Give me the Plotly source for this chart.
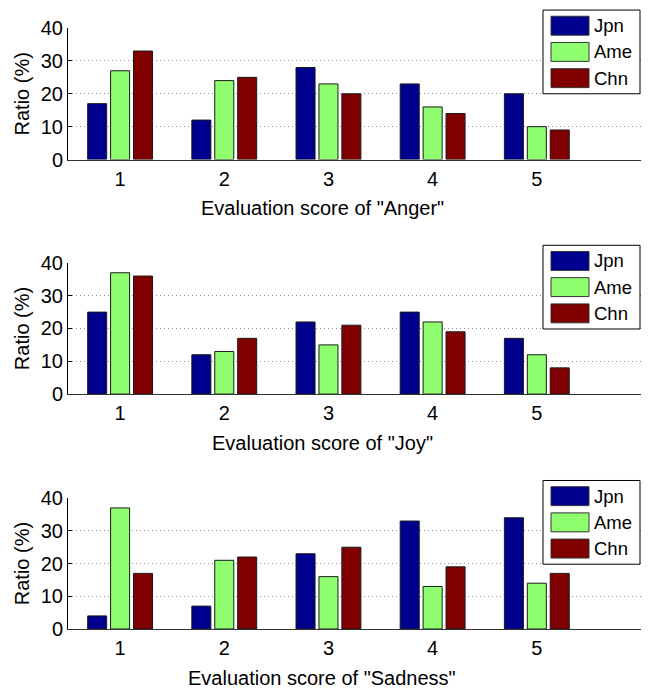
import plotly.graph_objects as go

scores = [1, 2, 3, 4, 5]
series_names = ["Jpn", "Ame", "Chn"]
series_colors = ["#00008F", "#8FFF70", "#800000"]

anger_jpn = [17, 12, 28, 23, 20]
anger_ame = [27, 24, 23, 16, 10]
anger_chn = [33, 25, 20, 14, 9]

joy_jpn = [25, 12, 22, 25, 17]
joy_ame = [37, 13, 15, 22, 12]
joy_chn = [36, 17, 21, 19, 8]

sad_jpn = [4, 7, 23, 33, 34]
sad_ame = [37, 21, 16, 13, 14]
sad_chn = [17, 22, 25, 19, 17]

panel_titles = ['Evaluation score of "Anger"',
                'Evaluation score of "Joy"',
                'Evaluation score of "Sadness"']
panels = [
    [anger_jpn, anger_ame, anger_chn],
    [joy_jpn, joy_ame, joy_chn],
    [sad_jpn, sad_ame, sad_chn],
]

FONT = "Liberation Sans, Arial, Helvetica, sans-serif"
# page body has an 8px margin, so the figure is 8px smaller
W, H = 642, 681
ML, MT = 60, 18
PW, PH = 573, 603
MR = W - ML - PW
MB = H - MT - PH

# geometry in reference-pixel coordinates (plot area x 68..641, y 26..629)
def px2x(px):
    return (px - 68) / PW

def px2y(py):
    return (629 - py) / PH

panel_px = [(26, 158), (261.7, 393.3), (497.7, 629)]
legend_top_px = [8, 244, 480]

fig = go.Figure()
layout = dict(
    width=W, height=H,
    margin=dict(l=ML, r=MR, t=MT, b=MB),
    paper_bgcolor="white", plot_bgcolor="white",
    barmode="group", bargap=0.34, bargroupgap=0.17,
    font=dict(family=FONT, size=20, color="black"),
    showlegend=False,
    annotations=[], shapes=[],
)

for i, (vals, title) in enumerate(zip(panels, panel_titles)):
    k = "" if i == 0 else str(i + 1)
    for name, color, v in zip(series_names, series_colors, vals):
        fig.add_trace(go.Bar(
            x=scores, y=v, name=name,
            marker=dict(color=color, line=dict(color="#1a1a1a", width=1)),
            xaxis="x" + k, yaxis="y" + k,
        ))
    top, bot = panel_px[i]
    layout["xaxis" + k] = dict(
        domain=[0, 1], anchor="y" + k, range=[0.5, 6.0],
        tickvals=scores, ticktext=[str(s) for s in scores],
        showline=True, linecolor="#333333", linewidth=1,
        ticks="", showgrid=False, zeroline=False,
        tickfont=dict(size=20), ticklabelstandoff=1,
    )
    layout["yaxis" + k] = dict(
        domain=[px2y(bot), px2y(top)], anchor="x" + k, range=[0, 40],
        tickvals=[0, 10, 20, 30, 40],
        showline=True, linecolor="black", linewidth=1,
        ticks="inside", ticklen=4, tickcolor="black",
        showgrid=True, gridcolor="#8c8c8c", griddash="1px,3px", gridwidth=1,
        zeroline=False, tickfont=dict(size=20),
        title=dict(text="Ratio (%)", font=dict(size=20), standoff=5),
    )
    layout["annotations"].append(dict(
        text=title, xref="paper", yref="paper",
        x=px2x(322), y=px2y(bot + 49),
        xanchor="center", yanchor="middle", showarrow=False,
        font=dict(size=20),
    ))
    # legend box
    lt = legend_top_px[i]
    layout["shapes"].append(dict(
        type="rect", xref="paper", yref="paper",
        x0=px2x(543), x1=px2x(640), y0=px2y(lt + 84), y1=px2y(lt),
        line=dict(color="black", width=1), fillcolor="white", layer="above",
    ))
    for j, (name, color) in enumerate(zip(series_names, series_colors)):
        cy = lt + 15.7 + 26.3 * j
        layout["shapes"].append(dict(
            type="rect", xref="paper", yref="paper",
            x0=px2x(551), x1=px2x(589), y0=px2y(cy + 9.5), y1=px2y(cy - 9.5),
            line=dict(color="#333333", width=1), fillcolor=color, layer="above",
        ))
        layout["annotations"].append(dict(
            text=name, xref="paper", yref="paper",
            x=px2x(592), y=px2y(cy), xanchor="left", yanchor="middle",
            showarrow=False, font=dict(size=18.5),
        ))

fig.update_layout(**layout)
fig.write_html("out.html")
